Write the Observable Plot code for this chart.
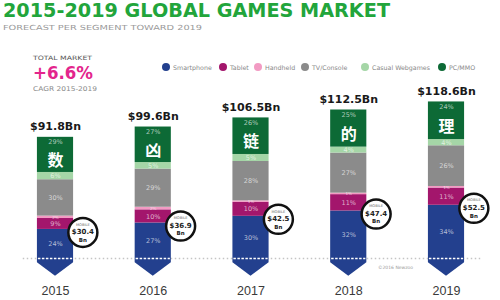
<!DOCTYPE html>
<html><head><meta charset="utf-8">
<script src="https://cdn.jsdelivr.net/npm/d3@7"></script>
<script src="https://cdn.jsdelivr.net/npm/@observablehq/plot@0.6"></script>
<style>
body{margin:0;background:#fff;font-family:"DejaVu Sans",sans-serif}
#wrap{position:relative;width:500px;height:300px;overflow:hidden}
#chart{position:absolute;left:0;top:0}
.h{position:absolute;white-space:nowrap;transform-origin:0 50%;line-height:1}
#title{left:3px;top:1px;font-size:19px;font-weight:bold;color:#22a53b}
#sub{left:3px;top:25px;font-size:7px;color:#9a9a9a}
#tm{left:33px;top:55px;font-size:6px;color:#555}
#cagr{left:33px;top:65px;font-size:17px;font-weight:bold;color:#e3258c}
#cagrl{left:33px;top:86px;font-size:6.5px;color:#8a8a8a}
.lg{position:absolute;top:63px;font-size:6.3px;color:#888;white-space:nowrap;line-height:7px}
.lg i{position:absolute;left:-4px;top:-0.5px;width:8px;height:8px;border-radius:50%}
.lg span{position:absolute;left:7px;top:0.5px}
#copy{position:absolute;left:378px;top:265px;font-size:4.5px;color:#999}
</style></head><body>
<div id="wrap">
<div id="chart"></div>
<div class="h" id="title">2015-2019 GLOBAL GAMES MARKET</div>
<div class="h" id="sub">FORECAST PER SEGMENT TOWARD 2019</div>
<div class="h" id="tm">TOTAL MARKET</div>
<div class="h" id="cagr">+6.6%</div>
<div class="h" id="cagrl">CAGR 2015-2019</div>
<div id="legend"></div>
<div id="copy">©2016 Newzoo</div>
</div>
<script>
// ---- data ----
const years = [2015, 2016, 2017, 2018, 2019];
const totals = [91.8, 99.6, 106.5, 112.5, 118.6];
const mobileTotals = [30.4, 36.9, 42.5, 47.4, 52.5];
const segments = ["Smartphone", "Tablet", "Handheld", "TV/Console", "Casual Webgames", "PC/MMO"];
const smartphonePct = [24, 27, 30, 32, 34];
const tabletPct = [9, 10, 10, 11, 11];
const handheldPct = [2, 2, 1, 1, 1];
const tvConsolePct = [30, 29, 28, 27, 26];
const casualPct = [6, 5, 5, 4, 4];
const pcMmoPct = [29, 27, 26, 25, 24];
const watermarkChars = ["数", "凶", "链", "的", "理"];

// ---- styles ----
const colors = ["#23408e", "#a3166c", "#f29bc3", "#8b8b8b", "#a5d6a7", "#0d6a36"];
const legendX = [166, 223, 258, 305, 365, 442];
const half = 0.185;

function fit(id, w){const el=document.getElementById(id);const r=el.getBoundingClientRect().width;el.style.transform=`scaleX(${w/r})`;}
fit("title",387);fit("sub",199);fit("tm",59);fit("cagr",60);fit("cagrl",64);

const lg=document.getElementById("legend");
segments.forEach((s,i)=>{const d=document.createElement("div");d.className="lg";d.style.left=legendX[i]+"px";
d.innerHTML=`<i style="background:${colors[i]}"></i><span>${s}</span>`;lg.appendChild(d);});

const pctArrays = [smartphonePct, tabletPct, handheldPct, tvConsolePct, casualPct, pcMmoPct];
const rows = [];
years.forEach((yr, i) => {
  let acc = 0;
  segments.forEach((s, j) => {
    const v = totals[i] * pctArrays[j][i] / 100;
    rows.push({year: yr, segment: s, pct: pctArrays[j][i], y1: acc, y2: acc + v});
    acc += v;
  });
});
const pcRows = rows.filter(d => d.segment === "PC/MMO");
const midRows = rows.filter(d => d.segment !== "PC/MMO" && d.segment !== "Handheld");
const hhRows = rows.filter(d => d.segment === "Handheld");
const yearRows = years.map((yr, i) => ({year: yr, total: totals[i], mobile: mobileTotals[i],
  smart: totals[i] * smartphonePct[i] / 100, wm: watermarkChars[i],
  pcMid: (pcRows[i].y1 + pcRows[i].y2) / 2}));
const arrowPts = years.flatMap(yr => [
  {year: yr, x: yr - half, y: -3.2},
  {year: yr, x: yr, y: -13.5},
  {year: yr, x: yr + half, y: -3.2}
]);

const pxPerBn = 1.32;
const cx = d => d.year + 0.28, cy = d => d.smart - 2.3;
const chart = Plot.plot({
  width: 500, height: 300,
  marginTop: 0, marginLeft: 0, marginRight: 0, marginBottom: 42,
  style: {fontFamily: "DejaVu Sans, sans-serif", background: "transparent"},
  x: {type: "linear", domain: [2015 - 55/97.75, 2019 + 54/97.75], axis: null},
  y: {domain: [0, 258 / pxPerBn], axis: null},
  color: {domain: segments, range: colors},
  marks: [
    Plot.ruleY([0], {x1: 2015 - 0.33, x2: 2019 + 0.35, stroke: "#c4c4c4", strokeWidth: 1.5, strokeDasharray: "1.5,2.5"}),
    Plot.rect(rows, {x1: d => d.year - half, x2: d => d.year + half, y1: "y1", y2: "y2", fill: "segment"}),
    Plot.areaY(arrowPts, {x: "x", y1: 0, y2: "y", z: "year", fill: colors[0], curve: "linear"}),
    Plot.ruleY(years, {y: 0, x1: d => d - half + 0.01, x2: d => d + half - 0.01, stroke: "#fff", strokeWidth: 1.3, strokeDasharray: "2.5,1.5"}),
    Plot.text(midRows, {x: "year", y: d => (d.y1 + d.y2) / 2, text: d => d.pct + "%", fill: "#fff", fillOpacity: 0.65, fontSize: 6.5}),
    Plot.text(hhRows, {x: "year", y: d => (d.y1 + d.y2) / 2, text: d => d.pct + "%", fill: "#fff", fillOpacity: 0.7, fontSize: 4.2}),
    Plot.text(pcRows, {x: "year", y: "y2", dy: 5, text: d => d.pct + "%", fill: "#fff", fillOpacity: 0.65, fontSize: 6.5}),
    Plot.text(yearRows, {x: "year", y: "pcMid", dy: 6, text: "wm", fill: "#fff", fontSize: 16, fontWeight: "bold",
      fontFamily: "Noto Sans CJK SC"}),
    Plot.text(yearRows, {x: "year", y: "total", dy: -7, lineAnchor: "bottom", text: d => `$${d.total.toFixed(1)}Bn`,
      fontWeight: "bold", fontSize: 11, fill: "#1a1a1a"}),
    Plot.dot(yearRows, {x: cx, y: cy, r: 14.5, fill: "#fff", stroke: "#111", strokeWidth: 2.5}),
    Plot.text(yearRows, {x: cx, y: cy, dy: -8, text: () => "MOBILE", fontSize: 3.6, fill: "#666"}),
    Plot.text(yearRows, {x: cx, y: cy, dy: -0.5, text: d => "$" + d.mobile.toFixed(1), fontSize: 7, fontWeight: "bold", fill: "#222"}),
    Plot.text(yearRows, {x: cx, y: cy, dy: 7.5, text: () => "Bn", fontSize: 5.5, fontWeight: "bold", fill: "#222"}),
    Plot.text(years, {x: d => d, y: 0, dy: 32.5, text: d => String(d), fontSize: 12.5, fill: "#3a3a3a", fontFamily: "Liberation Sans"})
  ]
});
document.getElementById("chart").appendChild(chart);
</script>
</body></html>
